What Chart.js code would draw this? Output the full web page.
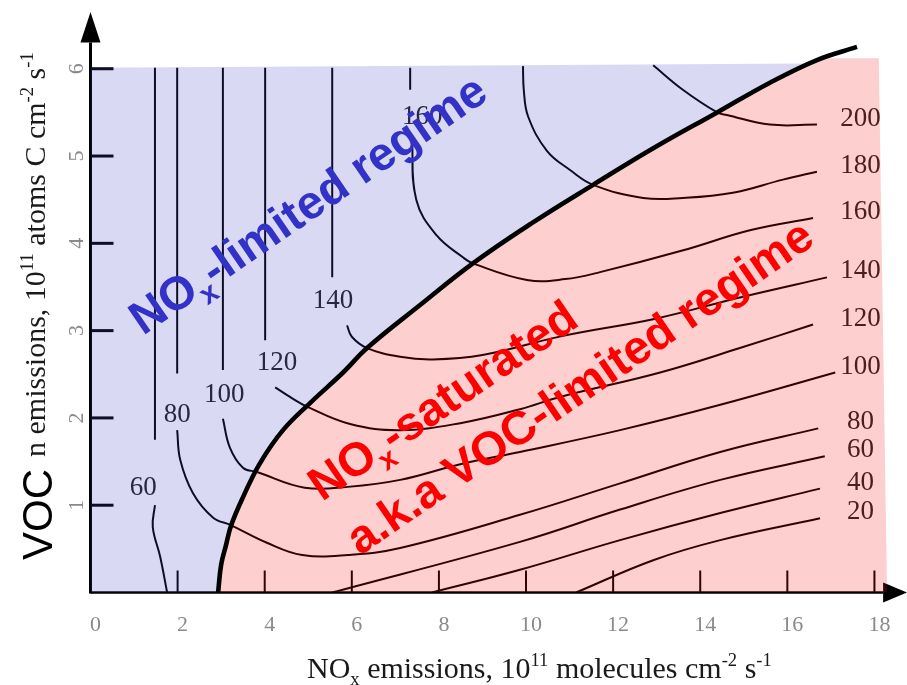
<!DOCTYPE html>
<html>
<head>
<meta charset="utf-8">
<script src="https://cdn.jsdelivr.net/npm/chart.js@4.4.1/dist/chart.umd.min.js"></script>
<style>
html,body{margin:0;padding:0;background:#ffffff;}
#wrap{position:relative;width:907px;height:685px;}
canvas{display:block;}
</style>
</head>
<body>
<div id="wrap"><canvas id="chart" width="907" height="685"></canvas></div>
<script>
// ---- axis ticks ----
const xTickValues = [0, 2, 4, 6, 8, 10, 12, 14, 16, 18];
const xTickLabels = ['0', '2', '4', '6', '8', '10', '12', '14', '16', '18'];
const yTickValues = [1, 2, 3, 4, 5, 6];
const yTickLabels = ['1', '2', '3', '4', '5', '6'];

// ---- thick ridge line separating the two regimes ----
const boundaryLine = [[2.93,0],[3.00,0.32],[3.11,0.54],[3.23,0.77],[3.50,1.09],[3.89,1.48],[4.42,1.86],[5.04,2.17],[5.80,2.52],[6.35,2.80],[7.56,3.29],[8.78,3.77],[10.16,4.24],[11.54,4.67],[12.96,5.10],[14.39,5.50],[15.60,5.84],[16.68,6.10],[17.60,6.25]];

// ---- shaded region edges ----
const blueTopEdge = [[0,6.01],[16.5,6.06]];
const pinkOuterEdge = [[16.75,6.12],[18.10,6.12],[18.29,0]];

// ---- ozone isopleths (ppb) ----
const iso60Upper = [[1.48,6.01],[1.48,1.75]];
const iso60Lower = [[1.48,1.00],[1.43,0.75],[1.60,0.41],[1.76,0]];
const iso60Right = [[5.55,0],[9.86,0.58],[12.16,0.95],[14.46,1.29],[16.86,1.56]];
const iso80Upper = [[1.99,6.01],[1.99,2.51]];
const iso80Lower = [[1.99,1.86],[2.06,1.52],[2.35,1.14],[2.81,0.86],[3.23,0.77],[4.05,0.57],[4.86,0.43],[5.91,0.43],[7.11,0.51],[9.86,0.89],[12.16,1.25],[14.46,1.61],[16.71,1.88]];
const iso100Upper = [[3.04,6.01],[3.04,2.55]];
const iso100Lower = [[3.04,1.99],[3.20,1.66],[3.50,1.43],[3.82,1.38],[4.92,1.20],[5.91,1.21],[7.11,1.29],[8.49,1.47],[9.86,1.61],[12.16,1.86],[14.46,2.15],[17.10,2.52]];
const iso120Upper = [[4.01,6.01],[4.01,2.89]];
const iso120Lower = [[4.24,2.35],[4.58,2.24],[4.97,2.13],[5.96,1.93],[7.11,1.86],[8.49,1.94],[9.86,2.10],[10.78,2.24],[13.08,2.52],[14.91,2.80],[16.59,3.07]];
const iso140Upper = [[5.55,6.01],[5.55,3.61]];
const iso140Lower = [[5.89,3.06],[6.00,2.93],[6.35,2.80],[7.11,2.70],[7.86,2.67],[9.00,2.72],[10.85,2.94],[13.00,3.14],[14.91,3.38],[16.91,3.61]];
const iso160Upper = [[7.34,6.01],[7.34,5.76]];
const iso160Lower = [[7.38,5.24],[7.48,4.50],[7.95,4.09],[8.55,3.84],[8.78,3.77],[10.02,3.58],[10.90,3.59],[11.70,3.67],[13.61,3.92],[15.14,4.15],[16.59,4.29]];
const iso180 = [[9.93,6.03],[9.95,5.75],[10.05,5.45],[10.48,5.06],[11.01,4.84],[11.54,4.67],[12.69,4.52],[13.60,4.52],[14.75,4.58],[15.90,4.73],[16.68,4.82]];
const iso200 = [[12.92,6.04],[13.60,5.76],[14.39,5.50],[14.61,5.47],[15.60,5.36],[16.68,5.36]];
const iso40 = [[7.84,0],[9.86,0.26],[12.16,0.60],[14.46,0.91],[16.75,1.19]];
const iso20 = [[11.15,0],[12.92,0.37],[14.46,0.60],[16.75,0.85]];

// labels inside the NOx-limited part (data coordinates)
const leftLabelText = ['60', '80', '100', '120', '140', '160'];
const leftLabelX = [1.21, 1.99, 3.07, 4.28, 5.57, 7.62];
const leftLabelY = [1.20, 2.04, 2.26, 2.63, 3.34, 5.45];
// labels at the right end of each isopleth
const rightLabelText = ['200', '180', '160', '140', '120', '100', '80', '60', '40', '20'];
const rightLabelLines = [iso200, iso180, iso160Lower, iso140Lower, iso120Lower, iso100Lower, iso80Lower, iso60Right, iso40, iso20];

const contourLines = [iso60Upper, iso60Lower, iso60Right, iso80Upper, iso80Lower, iso100Upper, iso100Lower,
  iso120Upper, iso120Lower, iso140Upper, iso140Lower, iso160Upper, iso160Lower, iso180, iso200, iso40, iso20];

const toPts = a => a.map(p => ({x: p[0], y: p[1]}));
const blueRegion = [[0,0]].concat(blueTopEdge, boundaryLine.filter(p => p[0] < 16.5).slice().reverse());
const pinkRegion = boundaryLine.filter(p => p[0] < 16.7).concat(pinkOuterEdge);

const datasets = [];
datasets.push({data: toPts(boundaryLine), borderColor: '#000000', borderWidth: 4.6, tension: 0.4, fill: false, pointRadius: 0, order: 0});
datasets.push({data: toPts(pinkRegion), borderColor: 'rgba(0,0,0,0)', borderWidth: 1, backgroundColor: 'rgba(245,15,15,0.2)', fill: 'shape', tension: 0, pointRadius: 0, order: 1});
datasets.push({data: toPts(blueRegion), borderColor: 'rgba(0,0,0,0)', borderWidth: 1, backgroundColor: 'rgba(65,65,195,0.2)', fill: 'shape', tension: 0, pointRadius: 0, order: 1});
contourLines.forEach(c => datasets.push({data: toPts(c), borderColor: '#000000', borderWidth: 2, tension: 0.4, fill: false, pointRadius: 0, order: 2}));

const SERIF = '"Liberation Serif", "Times New Roman", serif';
const SANS = '"Liberation Sans", Arial, sans-serif';

function rich(ctx, parts, x, y, angDeg, size, family, weight, color) {
  ctx.save();
  ctx.translate(x, y);
  ctx.rotate(angDeg * Math.PI / 180);
  ctx.fillStyle = color;
  ctx.textAlign = 'left';
  ctx.textBaseline = 'alphabetic';
  let cx = 0;
  for (const p of parts) {
    const s = (p.sub || p.sup) ? size * 0.62 : size;
    ctx.font = weight + ' ' + s + 'px ' + family;
    const dy = p.sub ? size * 0.24 : (p.sup ? -size * 0.4 : 0);
    ctx.fillText(p.t, cx, dy);
    cx += ctx.measureText(p.t).width;
  }
  ctx.restore();
}

const underPlugin = {
  id: 'under',
  beforeDatasetsDraw(chart) {
    const ctx = chart.ctx, sx = chart.scales.x, sy = chart.scales.y;
    const X = v => sx.getPixelForValue(v), Y = v => sy.getPixelForValue(v);
    ctx.save();
    ctx.strokeStyle = '#000';
    ctx.fillStyle = '#000';
    // y axis with arrow
    ctx.lineWidth = 3;
    ctx.beginPath(); ctx.moveTo(X(0), Y(0) + 1); ctx.lineTo(X(0), Y(6.3)); ctx.stroke();
    ctx.beginPath(); ctx.moveTo(X(0), Y(6.65)); ctx.lineTo(X(0) - 10, Y(6.3)); ctx.lineTo(X(0) + 10, Y(6.3)); ctx.closePath(); ctx.fill();
    // x axis with arrow
    ctx.lineWidth = 2.5;
    ctx.beginPath(); ctx.moveTo(X(0), Y(0)); ctx.lineTo(X(18.2), Y(0)); ctx.stroke();
    ctx.beginPath(); ctx.moveTo(X(18.75), Y(0)); ctx.lineTo(X(18.2), Y(0) - 10); ctx.lineTo(X(18.2), Y(0) + 10); ctx.closePath(); ctx.fill();
    // inward ticks
    ctx.lineWidth = 3;
    yTickValues.forEach(v => { ctx.beginPath(); ctx.moveTo(X(0), Y(v)); ctx.lineTo(X(0) + 23, Y(v)); ctx.stroke(); });
    ctx.lineWidth = 2;
    xTickValues.forEach(v => { if (v === 0) return; ctx.beginPath(); ctx.moveTo(X(v), Y(0)); ctx.lineTo(X(v), Y(0) - 22); ctx.stroke(); });
    // isopleth labels
    ctx.fillStyle = '#222';
    ctx.font = '27px ' + SERIF;
    ctx.textAlign = 'center';
    ctx.textBaseline = 'middle';
    leftLabelText.forEach((t, i) => ctx.fillText(t, X(leftLabelX[i]), Y(leftLabelY[i])));
    rightLabelText.forEach((t, i) => {
      const line = rightLabelLines[i];
      const end = line[line.length - 1];
      ctx.fillText(t, X(17.68), Y(end[1]) - 6);
    });
    ctx.restore();
  }
};

const overPlugin = {
  id: 'over',
  afterDraw(chart) {
    const ctx = chart.ctx, sx = chart.scales.x, sy = chart.scales.y;
    const X = v => sx.getPixelForValue(v), Y = v => sy.getPixelForValue(v);
    ctx.save();
    // tick labels
    ctx.fillStyle = '#8a8a8a';
    ctx.font = '22px ' + SERIF;
    ctx.textAlign = 'center';
    ctx.textBaseline = 'middle';
    xTickValues.forEach((v, i) => ctx.fillText(xTickLabels[i], X(v) + 5, Y(0) + 33));
    yTickValues.forEach((v, i) => {
      ctx.save(); ctx.translate(77, Y(v)); ctx.rotate(-Math.PI / 2); ctx.fillText(yTickLabels[i], 0, 0); ctx.restore();
    });
    ctx.restore();
    // axis titles
    rich(ctx, [{t: 'NO'}, {t: 'x', sub: true}, {t: ' emissions, 10'}, {t: '11', sup: true}, {t: ' molecules cm'}, {t: '-2', sup: true}, {t: ' s'}, {t: '-1', sup: true}],
      307, 678, 0, 30, SERIF, 'normal', '#1a1a1a');
    rich(ctx, [{t: 'VOC'}], 52, 560, -90, 42, SANS, 'normal', '#000');
    rich(ctx, [{t: 'n emissions, 10'}, {t: '11', sup: true}, {t: ' atoms C cm'}, {t: '-2', sup: true}, {t: ' s'}, {t: '-1', sup: true}],
      45, 457, -90, 30, SERIF, 'normal', '#1a1a1a');
    // regime annotations
    rich(ctx, [{t: 'NO'}, {t: 'x', sub: true}, {t: '-limited regime'}], 143, 336, -34.4, 47, SANS, 'bold', '#3232c8');
    rich(ctx, [{t: 'NO'}, {t: 'x', sub: true}, {t: '-saturated'}], 322, 502, -34.4, 47, SANS, 'bold', '#ff0000');
    rich(ctx, [{t: 'a.k.a VOC-limited regime'}], 360, 556, -34.4, 47, SANS, 'bold', '#ff0000');
  }
};

new Chart(document.getElementById('chart'), {
  type: 'line',
  data: {datasets: datasets},
  options: {
    responsive: false,
    animation: false,
    devicePixelRatio: 1,
    layout: {padding: {left: 90.5, right: 6, top: 12, bottom: 92.5}},
    plugins: {legend: {display: false}, tooltip: {enabled: false}},
    scales: {
      x: {type: 'linear', min: 0, max: 18.61, display: false},
      y: {type: 'linear', min: 0, max: 6.65, display: false}
    },
    elements: {point: {radius: 0}}
  },
  plugins: [underPlugin, overPlugin]
});
</script>
</body>
</html>
